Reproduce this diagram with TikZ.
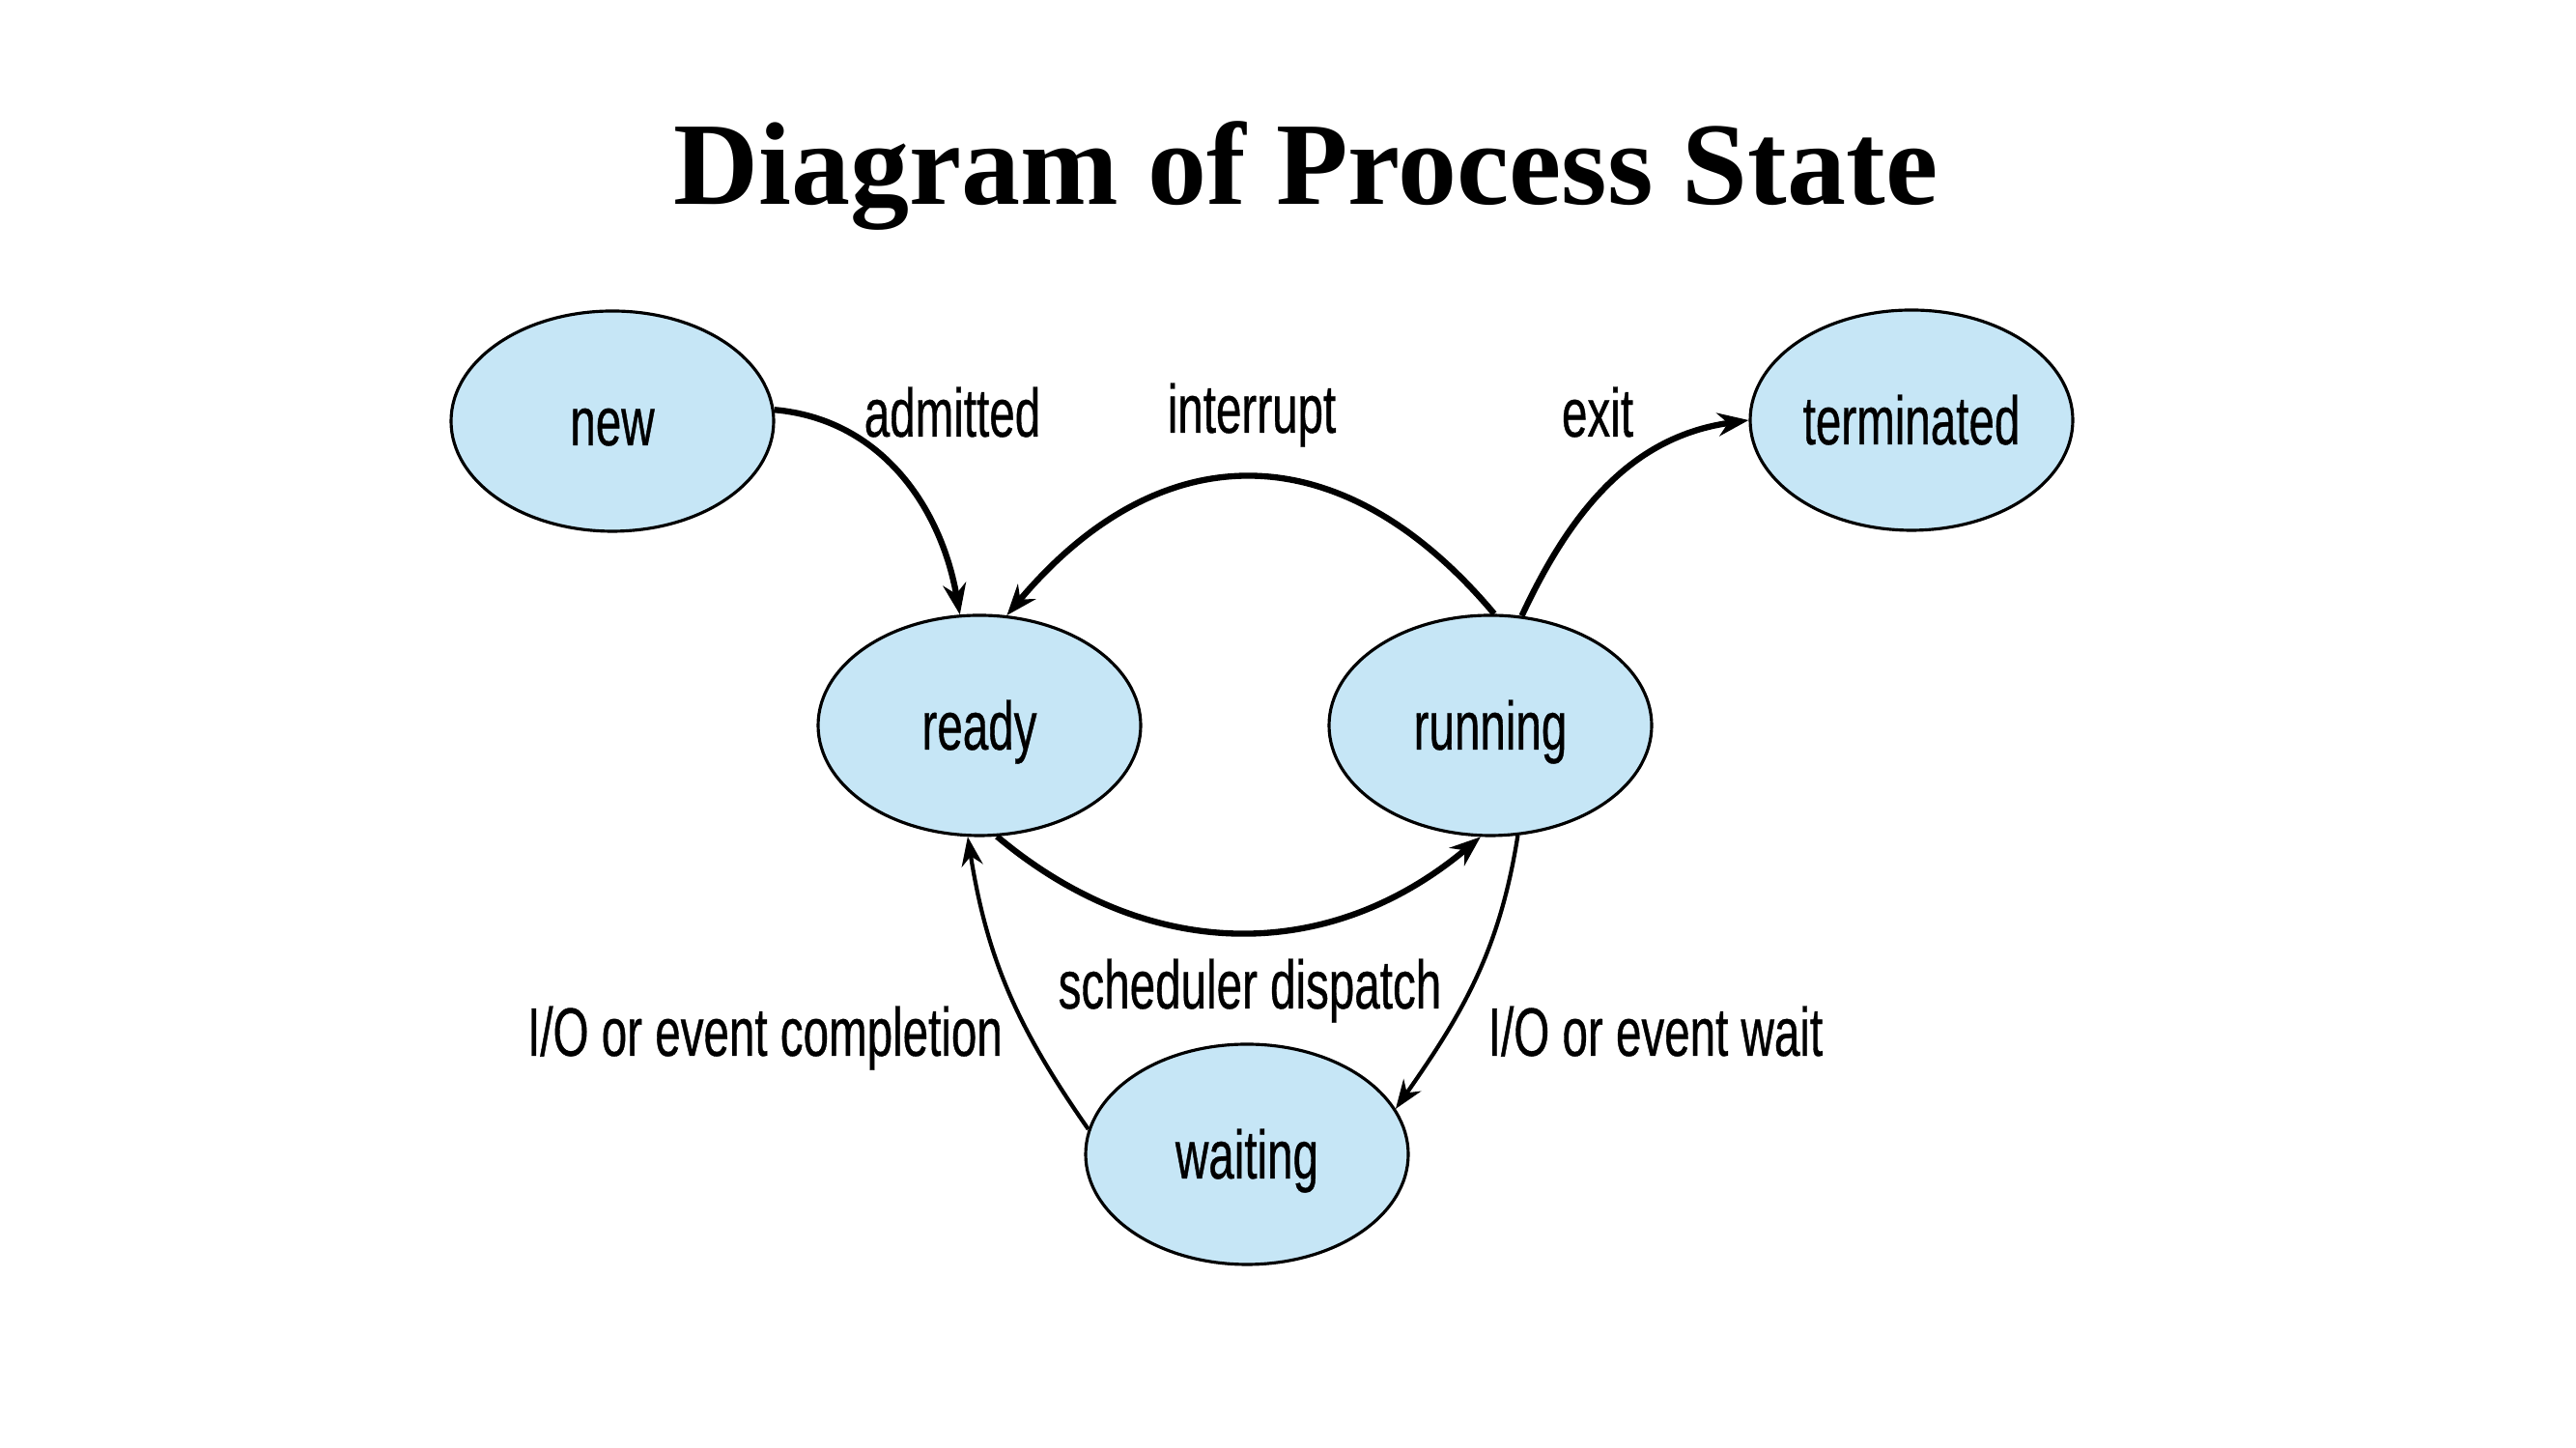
\documentclass[tikz,border=0pt]{standalone}
\usepackage{fontspec}
\setmainfont{Liberation Serif}
\newfontfamily\narrowsf[FakeStretch=0.67,FakeBold=0.5]{Liberation Sans}
\usetikzlibrary{shapes.geometric,arrows.meta}
\definecolor{stateblue}{RGB}{198,230,246}

\begin{document}
\begin{tikzpicture}[
    state/.style={ellipse, draw=black, line width=0.9pt, fill=stateblue,
      minimum width=3.34cm, minimum height=2.28cm, inner sep=0pt,
      text height=0.5cm, text depth=0pt,
      font=\narrowsf\fontsize{20.2}{24}\selectfont},
    trans/.style={line width=1.8pt, -{Stealth[length=0.32cm,width=0.24cm]}},
    thintrans/.style={line width=1.2pt, -{Stealth[length=0.3cm,width=0.22cm]}},
    lbl/.style={anchor=base, inner sep=0pt, font=\narrowsf\fontsize{20.2}{24}\selectfont}
  ]
  \useasboundingbox (0,0) rectangle (26.67,14.99);
  \fill[white] (0,0) rectangle (26.67,14.99);

  \node[anchor=base, inner sep=0pt, font=\bfseries\fontsize{34.7}{40}\selectfont] (title) at (13.52,12.87) {Diagram of Process State};

  % states
  \node[state] (new) at (6.34,10.63) {new};
  \node[state] (terminated) at (19.79,10.64) {terminated};
  \node[state] (ready) at (10.14,7.48) {ready};
  \node[state] (running) at (15.43,7.48) {running};
  \node[state] (waiting) at (12.91,3.04) {waiting};

  % transitions
  \draw[trans] (new.4) to[out=-5, in=100, looseness=1] (ready.100);
  \draw[trans] (running.88) to[out=130, in=50, looseness=1.25] (ready.76);
  \draw[trans] (running.74) to[out=65, in=188, looseness=1] (terminated.west);
  \draw[trans] (ready.-81) to[out=-40, in=-140, looseness=1.05] (running.-95);
  \draw[thintrans] (running.-76) to[out=-99, in=55, looseness=1] (waiting.17);
  \draw[thintrans] (waiting.171) to[out=125, in=-81, looseness=1] (ready.-96);

  % labels
  \node[lbl] (admitted) at (9.86,10.47) {admitted};
  \node[lbl] (interrupt) at (12.96,10.51) {interrupt};
  \node[lbl] (exit) at (16.54,10.47) {exit};
  \node[lbl] (dispatch) at (12.94,4.55) {scheduler dispatch};
  \node[lbl] (iodone) at (7.92,4.06) {I/O or event completion};
  \node[lbl] (iowait) at (17.14,4.06) {I/O or event wait};
\end{tikzpicture}
\end{document}
